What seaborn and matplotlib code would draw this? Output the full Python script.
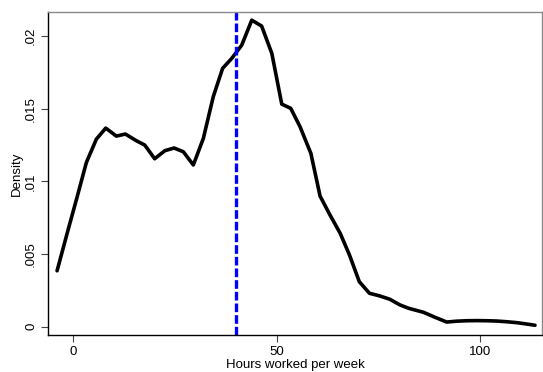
import matplotlib
matplotlib.use("Agg")
import matplotlib.pyplot as plt
import seaborn as sns
import pandas as pd

hours = [-4.0, -1.55, 0.9, 3.2, 5.66, 7.97, 10.57, 12.79, 15.49, 17.56, 20.0, 22.47,
         24.76, 27.05, 29.5, 31.96, 34.4, 36.7, 38.95, 41.4, 43.87, 46.3, 48.8, 51.24,
         53.45, 55.74, 58.4, 60.66, 63.1, 65.6, 67.9, 70.3, 72.8, 75.2, 77.8, 80.3,
         82.4, 86.1, 88.9, 91.8, 94.2, 96.7, 99.2, 101.7, 104.1, 106.6, 109.0, 111.3, 113.5]
density = [0.00385, 0.0064, 0.0089, 0.0113, 0.01291, 0.01367, 0.01312, 0.01326, 0.0128,
           0.0125, 0.01156, 0.01211, 0.0123, 0.01204, 0.01113, 0.01296, 0.01583, 0.01778,
           0.01847, 0.01938, 0.0211, 0.02069, 0.01881, 0.01532, 0.01503, 0.01376, 0.01193,
           0.00899, 0.00769, 0.00643, 0.00493, 0.0031, 0.0023, 0.00213, 0.00189, 0.0015,
           0.00127, 0.00099, 0.00065, 0.00032, 0.00038, 0.00041, 0.00042, 0.00041, 0.00039,
           0.00034, 0.00028, 0.00019, 0.0001]
ref_line = 40
x_ticks = [0, 50, 100]
y_ticks = [0, 0.005, 0.01, 0.015, 0.02]
y_ticklabels = ["0", ".005", ".01", ".015", ".02"]

sns.set_style("white")
plt.rcParams["font.family"] = ["Liberation Sans", "DejaVu Sans"]
plt.rcParams["text.color"] = "black"
plt.rcParams["axes.labelcolor"] = "black"
plt.rcParams["xtick.color"] = "black"
plt.rcParams["ytick.color"] = "black"

fig = plt.figure(figsize=(5.43, 3.72), dpi=100)
ax = fig.add_axes([0.089, 0.0995, 0.909, 0.869])

df = pd.DataFrame({"hours": hours, "density": density})
sns.lineplot(data=df, x="hours", y="density", sort=False, color="black", linewidth=2.6, ax=ax)
ax.axvline(ref_line, color="#0000ff", linewidth=2.4, dashes=(2.6, 0.9))

ax.set_xlim(-6.15, 115.2)
ax.set_ylim(-0.00057, 0.02168)
ax.set_xticks(x_ticks)
ax.set_xticklabels([str(t) for t in x_ticks], fontsize=9.5)
ax.set_yticks(y_ticks)
ax.set_yticklabels(y_ticklabels, fontsize=9.5, rotation=90, va="center")
ax.tick_params(axis="both", direction="out", length=5, width=0.8, colors="black", pad=3, bottom=True, left=True)
ax.tick_params(axis="both", color="#444444")
ax.set_xlabel("Hours worked per week", fontsize=9.5, labelpad=1)
ax.set_ylabel("Density", fontsize=9.5, labelpad=2)

for s in ["left", "bottom"]:
    ax.spines[s].set_color("black")
    ax.spines[s].set_linewidth(1.0)
for s in ["top", "right"]:
    ax.spines[s].set_color("#8a8a8a")
    ax.spines[s].set_linewidth(1.0)

fig.savefig("out.png", dpi=100)
